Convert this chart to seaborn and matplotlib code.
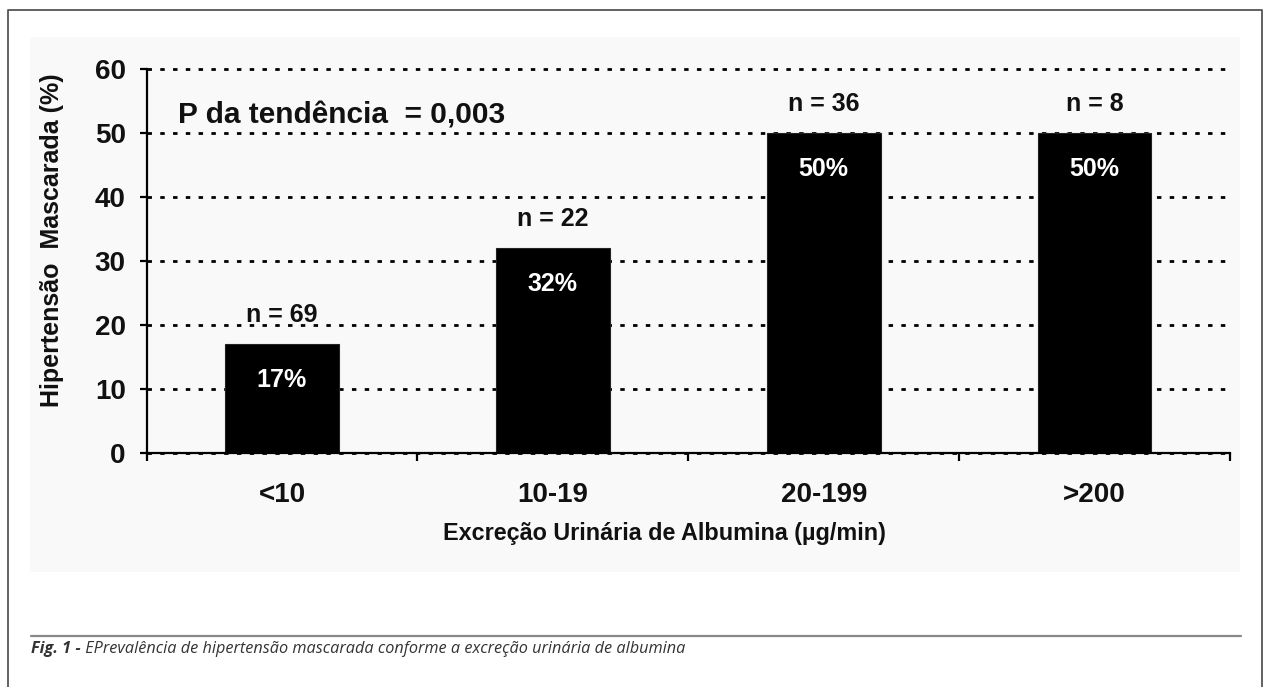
import numpy as np
import pandas as pd
import matplotlib.pyplot as plt
import seaborn as sns
from matplotlib.lines import Line2D
from matplotlib.patches import Rectangle
from matplotlib.ticker import FixedLocator

# Données
categories = ["<10", "10-19", "20-199", ">200"]
prevalence = [17, 32, 50, 50]
n_patients = [69, 22, 36, 8]
y_ticks = [0, 10, 20, 30, 40, 50, 60]

sns.set_style("white")
plt.rcParams['font.family'] = ['Liberation Sans', 'DejaVu Sans']

df = pd.DataFrame({"categoria": categories, "prevalencia": prevalence})

fig = plt.figure(figsize=(12.69, 6.87), dpi=100)
W, H = 1269, 687

# fond gris clair du panneau + cadre extérieur
fig.patches.append(Rectangle((30 / W, 1 - 572 / H), 1210 / W, 535 / H,
                             transform=fig.transFigure, facecolor="#f9f9f9",
                             edgecolor="none", zorder=-5))
frame_x = [8 / W, 8 / W, 1262 / W, 1262 / W]
frame_y = [0, 1 - 10 / H, 1 - 10 / H, 0]
fig.lines.append(Line2D(frame_x, frame_y, transform=fig.transFigure,
                        color="#555555", lw=1.3))
fig.lines.append(Line2D([31 / W, 1241 / W], [1 - 636 / H, 1 - 636 / H],
                        transform=fig.transFigure, color="#888888", lw=1.6))

ax = fig.add_axes([146.5 / W, 1 - 453 / H, (1230 - 146.5) / W, (453 - 69) / H])
ax.set_facecolor("none")

sns.barplot(data=df, x="categoria", y="prevalencia", color="black",
            saturation=1, width=0.42, edgecolor="#222222", linewidth=0.8, ax=ax)

ax.set_xlim(-0.5, 3.5)
ax.set_ylim(0, 60)
ax.set_yticks(y_ticks)
ax.set_axisbelow(True)
ax.yaxis.grid(True, linestyle=(0, (1.6, 3.0)), color="black", lw=2.0)
for gl in ax.get_ygridlines():
    gl.set_clip_on(False)
ax.xaxis.grid(False)

sns.despine(ax=ax)
for side in ["left", "bottom"]:
    ax.spines[side].set_linewidth(1.6)
    ax.spines[side].set_color("black")

ax.xaxis.set_minor_locator(FixedLocator(np.arange(-0.5, 4.0, 1.0)))
ax.tick_params(axis="x", which="major", length=0, pad=21, labelsize=20)
ax.tick_params(axis="x", which="minor", length=6, width=1.6, direction="out",
               color="black", bottom=True)
ax.tick_params(axis="y", which="major", length=5, width=1.6, direction="out",
               color="black", pad=10, labelsize=20, left=True)
for lab in ax.get_xticklabels() + ax.get_yticklabels():
    lab.set_fontweight("bold")
    lab.set_color("#111111")

ax.set_xlabel("Excreção Urinária de Albumina (µg/min)", fontsize=16.8,
              fontweight="bold", color="#111111")
ax.xaxis.set_label_coords(0.478, -0.18)
ax.set_ylabel("Hipertensão  Mascarada (%)", fontsize=18, fontweight="bold",
              color="#111111")
ax.yaxis.set_label_coords(-0.076, 0.555)

# étiquettes n = ... au-dessus et pourcentages dans les barres
for i, (v, n) in enumerate(zip(prevalence, n_patients)):
    ax.annotate(f"n = {n}", xy=(i, v), xytext=(0, 16), textcoords="offset points",
                ha="center", va="baseline", fontsize=18, fontweight="bold",
                color="#111111", annotation_clip=False)
    ax.annotate(f"{v}%", xy=(i, v), xytext=(0, -26), textcoords="offset points",
                ha="center", va="center", fontsize=18, fontweight="bold",
                color="white")

ax.text(0.029, 0.859, "P da tendência  = 0,003", transform=ax.transAxes,
        fontsize=21.5, fontweight="bold", color="#111111", va="baseline", ha="left")

# légende de la figure
cap_font = ["Open Sans", "DejaVu Sans"]
cap1 = fig.text(31 / W, 1 - 653 / H, "Fig. 1 -", fontsize=11.7, fontweight="bold",
                style="italic", family=cap_font, color="#333333", va="baseline")
ax.annotate(" EPrevalência de hipertensão mascarada conforme a excreção urinária de albumina",
            xy=(1, 0), xycoords=cap1, va="bottom", ha="left", fontsize=11.7,
            style="italic", family=cap_font, color="#333333",
            annotation_clip=False)

plt.savefig("out.png", dpi=100)
